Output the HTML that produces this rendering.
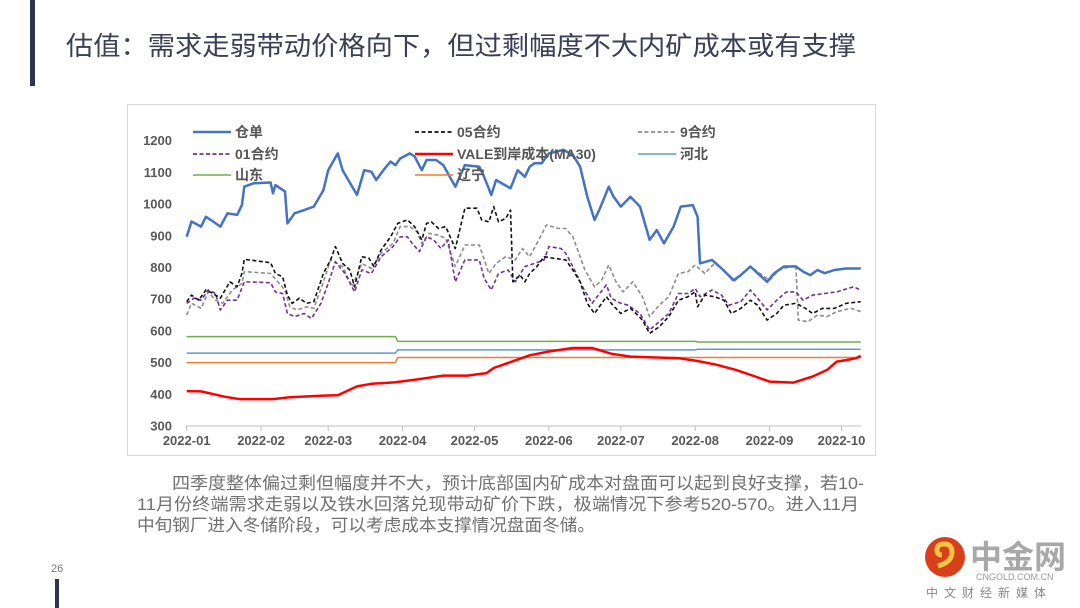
<!DOCTYPE html>
<html><head><meta charset="utf-8"><style>
html,body{margin:0;padding:0;background:#fff;}
svg{display:block;font-family:"Liberation Sans","Noto Sans CJK SC",sans-serif;}
</style></head><body>
<svg id="page" width="1080" height="608" viewBox="0 0 1080 608" xmlns="http://www.w3.org/2000/svg">
<rect x="30" y="0" width="5" height="86" fill="#2e3350"/>
<text x="66" y="55" font-size="26" fill="#3a3f55" textLength="790" lengthAdjust="spacingAndGlyphs">估值：需求走弱带动价格向下，但过剩幅度不大内矿成本或有支撑</text>
<rect x="127.5" y="104.5" width="748" height="351" fill="#fff" stroke="#d9d9d9"/>
<g id="chart"></g>
<g fill="#707070" font-size="17">
<text x="172" y="489" textLength="692" lengthAdjust="spacingAndGlyphs">四季度整体偏过剩但幅度并不大，预计底部国内矿成本对盘面可以起到良好支撑，若10-</text>
<text x="137" y="510" textLength="722" lengthAdjust="spacingAndGlyphs">11月份终端需求走弱以及铁水回落兑现带动矿价下跌，极端情况下参考520-570。进入11月</text>
<text x="137" y="531" textLength="458" lengthAdjust="spacingAndGlyphs">中旬钢厂进入冬储阶段，可以考虑成本支撑情况盘面冬储。</text>
</g>
<text x="51" y="572" font-size="11" fill="#777">26</text>
<rect x="55" y="579" width="4" height="29" fill="#2e3350"/>
<g>
<circle cx="945" cy="557" r="20" fill="#d8401c"/>
<path d="M938 566 q14 -4 14 -14 q0 -8 -8 -8 q-7 0 -7 6 q0 5 5 5" fill="none" stroke="#f4c542" stroke-width="5"/>
<text x="970" y="568" font-size="32" font-weight="bold" fill="#a8a8a8">中金网</text>
<text x="976" y="580" font-size="9" fill="#999">CNGOLD.COM.CN</text>
<text x="926" y="597" font-size="12" fill="#888" letter-spacing="6">中文财经新媒体</text>
</g>
</svg>
<script>
const yTicks=[300,400,500,600,700,800,900,1000,1100,1200];
const xTickLabels=["2022-01","2022-02","2022-03","2022-04","2022-05","2022-06","2022-07","2022-08","2022-09","2022-10"];
const xTickDays=[0,31,59,90,120,151,181,212,243,273];
const warrantDays=[0,2,6,8,11,14,17,21,23,24,28,35,36,37,41,42,45,49,53,57,59,63,65,71,73,74,77,79,82,85,87,89,93,95,98,100,104,107,112,116,122,124,127,129,135,138,141,143,145,148,151,157,161,164,167,170,172,176,178,181,185,189,193,196,199,203,206,211,213,214,219,223,228,231,235,238,242,245,249,254,257,260,263,266,270,275,281];
const warrantVals=[897,945,929,960,945,929,971,966,997,1055,1066,1068,1034,1060,1040,939,971,981,992,1044,1107,1160,1107,1029,1081,1107,1102,1076,1107,1134,1123,1144,1160,1150,1107,1139,1139,1123,1055,1123,1118,1086,1029,1076,1050,1107,1086,1118,1129,1129,1160,1171,1155,1118,1023,950,981,1055,1023,992,1023,992,887,918,876,929,992,997,960,813,824,797,760,776,803,782,755,782,803,803,787,776,792,782,792,797,797];
const c05Days=[0,2,5,8,11,14,18,21,23,24,35,37,40,42,44,47,50,53,57,60,62,65,68,70,73,76,78,81,85,88,92,95,98,100,102,105,108,112,116,121,123,126,128,130,133,135,136,139,141,143,146,149,153,158,161,164,167,170,175,177,181,185,188,190,193,197,201,205,209,212,213,216,220,224,227,231,235,238,242,246,249,254,258,261,265,270,275,281];
const c05Vals=[692,713,697,729,718,703,755,739,781,826,815,781,771,713,687,703,687,692,781,824,866,813,792,739,834,829,803,855,897,939,950,929,887,939,944,923,929,860,987,987,950,944,992,944,955,981,755,776,755,781,803,834,829,824,792,755,687,655,708,687,655,671,650,634,592,613,645,697,708,724,676,713,708,697,655,671,697,681,634,655,681,687,671,655,671,671,687,692];
const c01Days=[0,3,6,9,12,14,17,21,24,35,37,40,42,45,49,52,56,59,62,66,70,73,77,81,86,89,92,94,97,100,103,106,109,112,116,122,124,127,130,134,137,141,145,149,151,156,158,161,165,169,175,177,181,184,189,193,197,201,205,209,212,214,219,223,226,231,235,238,242,246,250,254,257,261,266,271,278,281];
const c01Vals=[687,703,697,729,718,666,697,697,755,752,723,718,655,645,655,639,687,750,818,781,723,792,781,834,866,897,897,876,850,897,887,860,887,755,824,824,766,729,781,792,755,803,813,824,866,860,845,803,739,687,745,703,687,681,655,603,629,655,718,718,734,708,729,713,681,692,729,703,666,697,723,723,697,713,718,723,739,729];
const c09Days=[0,2,6,9,12,15,19,23,24,35,38,41,43,46,50,53,57,60,65,69,73,77,81,86,89,93,96,98,101,105,108,112,116,122,126,129,133,137,140,143,146,150,155,158,161,166,170,173,176,179,182,186,190,193,197,201,205,209,212,216,220,224,228,232,235,239,243,247,254,255,259,263,267,271,277,281];
const c09Vals=[650,687,671,723,697,687,729,750,787,781,755,729,676,666,676,671,755,824,803,739,813,797,845,876,929,929,913,876,908,902,892,803,871,871,781,813,834,824,860,834,876,934,923,923,897,792,739,760,808,755,723,755,708,645,681,708,781,787,808,781,813,792,755,781,803,781,760,792,808,634,629,650,645,661,671,661];
const valeDays=[0,6,16,22,36,43,57,63,71,77,87,97,107,117,125,128,137,143,151,161,169,177,185,193,205,213,221,229,237,243,253,261,267,271,275,279,281];
const valeVals=[410,409,392,385,385,391,396,397,425,433,438,448,459,459,467,483,507,523,535,546,546,528,519,517,514,505,493,477,456,440,437,456,477,503,508,514,521];
const stepDays=[0,87,88,212,213,281];
const shandongVals=[582,582,567,567,565,565];
const hebeiVals=[530,530,540,540,542,542];
const liaoningVals=[500,500,516,516,516,516];

const NS="http://www.w3.org/2000/svg";
const chart=document.getElementById('chart');
const X0=186.7,PXD=(841.5-186.7)/273;
const xs=d=>X0+d*PXD;
const ys=v=>140.7+(1200-v)*0.3170;
function mk(tag,attrs,parent){const e=document.createElementNS(NS,tag);for(const k in attrs)e.setAttribute(k,attrs[k]);(parent||chart).appendChild(e);return e;}

yTicks.forEach(v=>{
  const t=mk('text',{x:172,y:ys(v)+4.5,'text-anchor':'end','font-size':13,'font-weight':'bold',fill:'#595959'});
  
  
  t.textContent=v;
});
const ax=mk('line',{x1:186,x2:861,y1:ys(300),y2:ys(300),stroke:'#bfbfbf','stroke-width':1});


xTickLabels.forEach((l,i)=>{
  const x=xs(xTickDays[i]);
  const tk=mk('line',{x1:x,x2:x,y1:ys(300),y2:ys(300)+5,stroke:'#bfbfbf'});
  
  
  const t=mk('text',{x:x,y:445,'text-anchor':'middle','font-size':13,'font-weight':'bold',fill:'#595959'});
  
  
  t.textContent=l;
});

function line(days,vals,color,w,dash,name){
  const pts=days.map((d,i)=>xs(d).toFixed(1)+','+ys(vals[i]).toFixed(1)).join(' ');
  const p=mk('polyline',{points:pts,fill:'none',stroke:color,'stroke-width':w,'stroke-linejoin':'round'});
  if(dash)p.setAttribute('stroke-dasharray',dash);
  
  
}
line(stepDays,shandongVals,'#70ad47',1.5,null,'shandong-line');
line(stepDays,hebeiVals,'#5b9bd5',1.5,null,'hebei-line');
line(stepDays,liaoningVals,'#ed7d31',1.5,null,'liaoning-line');
line(valeDays,valeVals,'#ff0000',2.5,null,'vale-cost-line');
line(c09Days,c09Vals,'#8c8c8c',1.6,'4,2.5','contract-09-line');
line(c01Days,c01Vals,'#7030a0',1.6,'4,2.5','contract-01-line');
line(c05Days,c05Vals,'#111111',1.6,'4,2.5','contract-05-line');
line(warrantDays,warrantVals,'#4472c4',2.5,null,'warrant-line');

const legend=[
 ['仓单','#4472c4',null,193,132,2.5,'legend-warrant'],
 ['05合约','#111',"4,2.5",415,132,1.8,'legend-05'],
 ['9合约','#8c8c8c',"4,2.5",638,132,1.8,'legend-09'],
 ['01合约','#7030a0',"4,2.5",193,154,1.8,'legend-01'],
 ['VALE到岸成本(MA30)','#ff0000',null,415,154,2.5,'legend-vale'],
 ['河北','#5b9bd5',null,638,154,1.5,'legend-hebei'],
 ['山东','#70ad47',null,193,175,1.5,'legend-shandong'],
 ['辽宁','#ed7d31',null,415,175,1.5,'legend-liaoning']];
legend.forEach(([lab,c,dash,x,y,w,name])=>{
  const g=mk('g',{});
  
  
  const l=mk('line',{x1:x,x2:x+38,y1:y,y2:y,stroke:c,'stroke-width':w},g);
  if(dash)l.setAttribute('stroke-dasharray',dash);
  const t=mk('text',{x:x+42,y:y+5,'font-size':14,'font-weight':'bold',fill:'#555'},g);
  t.textContent=lab;
});
</script>
</body></html>
